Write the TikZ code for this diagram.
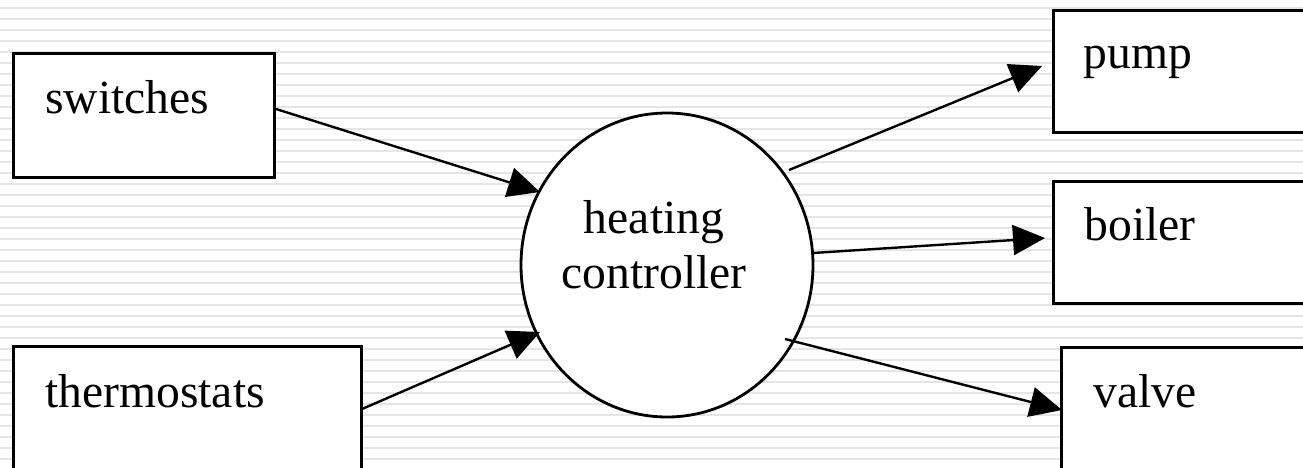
\documentclass[tikz,border=0pt]{standalone}
\usepackage{fontspec}
\setmainfont{Liberation Serif}
\usetikzlibrary{arrows.meta,shapes.geometric}
\begin{document}
\begin{tikzpicture}[x=0.5pt,y=-0.5pt,
  boxnode/.style={draw=black,line width=1.5pt,fill=white,anchor=north west,inner sep=0pt,outer sep=0pt},
  lbl/.style={anchor=base west,inner sep=0pt,font=\fontsize{23.8}{27.5}\selectfont},
  clbl/.style={anchor=base,inner sep=0pt,font=\fontsize{23.8}{27.5}\selectfont},
  flow/.style={line width=1.2pt,-{Triangle[length=16pt,width=15pt]}},
  stripe/.style={draw=black!10,line width=1pt}]
\clip (0,0) rectangle (1303,467);
\fill[white] (0,0) rectangle (1303,467);
\foreach \k in {0,...,41} \draw[stripe] (0,{7.7+11*\k}) -- (1303,{7.7+11*\k});
% boxes
\node[boxnode,minimum width=130.5pt,minimum height=62pt] (sw) at (13,53) {};
\node[boxnode,minimum width=174pt,minimum height=62pt] (th) at (13,346) {};
\node[boxnode,minimum width=150pt,minimum height=61pt] (pu) at (1053,10) {};
\node[boxnode,minimum width=150pt,minimum height=61pt] (bo) at (1053,181) {};
\node[boxnode,minimum width=150pt,minimum height=62pt] (va) at (1061,347) {};
\node[ellipse,draw=black,line width=1.4pt,fill=white,inner sep=0pt,minimum width=146pt,minimum height=152pt] (hc) at (667,265) {};
% labels
\node[lbl] (tsw) at (45,113) {switches};
\node[lbl] (tth) at (45,407) {thermostats};
\node[lbl] (tpu) at (1083,68) {pump};
\node[lbl] (tbo) at (1084,240) {boiler};
\node[lbl] (tva) at (1093,407) {valve};
\node[clbl] (thc1) at (654,233) {heating};
\node[clbl] (thc2) at (654,288) {controller};
% connector ends
\coordinate (a1s) at (276,109); \coordinate (a1e) at (540,192);
\coordinate (a2s) at (362,409); \coordinate (a2e) at (540,332);
\coordinate (a3s) at (789,170); \coordinate (a3e) at (1042,66);
\coordinate (a4s) at (813,253); \coordinate (a4e) at (1045,238);
\coordinate (a5s) at (785,339); \coordinate (a5e) at (1062,410);
\draw[flow] (a1s) -- (a1e);
\draw[flow] (a2s) -- (a2e);
\draw[flow] (a3s) -- (a3e);
\draw[flow] (a4s) -- (a4e);
\draw[flow] (a5s) -- (a5e);
\end{tikzpicture}
\end{document}
